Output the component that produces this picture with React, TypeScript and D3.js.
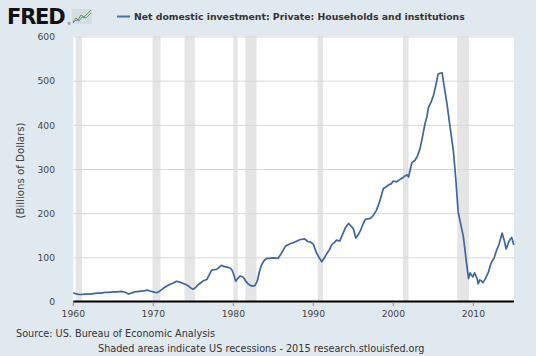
import React from "react";
import * as d3 from "d3";

const years: number[] = [
  1960.0, 1960.25, 1960.5, 1960.75, 1961.0, 1961.5, 1962.0, 1962.5, 1963.0, 1963.5,
  1964.0, 1964.5, 1965.0, 1965.5, 1966.0, 1966.5, 1966.9, 1967.25, 1967.7, 1968.25,
  1968.75, 1969.2, 1969.6, 1970.0, 1970.4, 1970.75, 1971.25, 1971.6, 1972.1, 1972.5,
  1972.9, 1973.3, 1973.75, 1974.1, 1974.4, 1974.75, 1975.0, 1975.3, 1975.6, 1975.9,
  1976.25, 1976.7, 1977.0, 1977.3, 1977.6, 1977.9, 1978.2, 1978.5, 1978.9, 1979.25,
  1979.6, 1979.85, 1980.0, 1980.3, 1980.55, 1980.85, 1981.25, 1981.6, 1981.9, 1982.3,
  1982.7, 1983.0, 1983.25, 1983.5, 1983.85, 1984.2, 1984.6, 1985.0, 1985.6, 1986.0,
  1986.5, 1987.1, 1987.7, 1988.3, 1988.6, 1988.9, 1989.3, 1989.6, 1990.0, 1990.4,
  1990.75, 1991.05, 1991.35, 1991.7, 1992.0, 1992.3, 1992.6, 1992.9, 1993.3, 1993.7,
  1994.0, 1994.4, 1994.7, 1995.0, 1995.3, 1995.6, 1995.9, 1996.2, 1996.5, 1997.1,
  1997.5, 1997.9, 1998.3, 1998.75, 1999.1, 1999.4, 1999.75, 2000.0, 2000.4, 2000.7,
  2001.0, 2001.35, 2001.7, 2001.9, 2002.3, 2002.7, 2003.0, 2003.3, 2003.6, 2003.95,
  2004.2, 2004.4, 2004.7, 2005.0, 2005.3, 2005.6, 2005.85, 2006.1, 2006.4, 2006.7,
  2007.1, 2007.5, 2007.8, 2008.1, 2008.4, 2008.75, 2009.1, 2009.4, 2009.6, 2009.8,
  2009.95, 2010.15, 2010.3, 2010.45, 2010.6, 2010.8, 2011.0, 2011.2, 2011.5, 2011.9,
  2012.1, 2012.3, 2012.6, 2012.9, 2013.2, 2013.6, 2013.85, 2014.1, 2014.4, 2014.6,
  2014.8, 2015.05,
];

const values: number[] = [
  21, 19, 18, 17, 17, 18, 18, 19, 20, 20,
  22, 22, 23, 23, 24, 22, 18, 20, 23, 24,
  25, 27, 25, 23, 21, 24, 31, 35, 40, 43,
  47, 45, 42, 39, 36, 31, 29, 33, 39, 43,
  48, 51, 62, 72, 73, 74, 78, 83, 80, 79,
  77, 72, 65, 47, 53, 59, 56, 46, 40, 36,
  37, 48, 68, 83, 94, 99, 99, 100, 99, 110,
  126, 132, 136, 141, 142, 143, 137, 136, 131, 111,
  100, 91, 99, 110, 118, 130, 134, 140, 138, 155,
  168, 178, 172, 166, 145, 152, 162, 176, 187, 189,
  196, 208, 228, 257, 261, 265, 268, 274, 272, 276,
  279, 284, 288, 283, 315, 321, 330, 345, 370, 403,
  420, 441, 452, 467, 490, 516, 518, 519, 483, 449,
  395, 343, 280, 204, 178, 148, 95, 53, 66, 60,
  57, 66, 60, 54, 41, 50, 48, 44, 53, 68,
  82, 91, 100, 117, 130, 156, 140, 120, 135, 142,
  146, 129,
];

const recessionStarts: number[] = [1960.3, 1969.9, 1973.9, 1980.0, 1981.5, 1990.55, 2001.2, 2007.98];
const recessionEnds: number[] = [1961.1, 1970.9, 1975.2, 1980.55, 1982.9, 1991.2, 2001.9, 2009.45];

const xTicks: number[] = [1960, 1970, 1980, 1990, 2000, 2010];
const yTicks: number[] = [0, 100, 200, 300, 400, 500, 600];

const seriesTitle = "Net domestic investment: Private: Households and institutions";
const yTitle = "(Billions of Dollars)";
const sourceText = "Source: US. Bureau of Economic Analysis";
const footerText = "Shaded areas indicate US recessions - 2015 research.stlouisfed.org";

const W = 536;
const H = 356;
const plotL = 73.3;
const plotR = 514;
const plotT = 37;
const plotB = 302;
const font = "DejaVu Sans, Verdana, sans-serif";

export default function App() {
  const x = d3.scaleLinear().domain([1960, 2015.08]).range([plotL, plotR]);
  const y = d3.scaleLinear().domain([0, 600]).range([plotB, plotT]);
  const data = years.map((yr, i) => [yr, values[i]] as [number, number]);
  const line = d3
    .line<[number, number]>()
    .x((d) => x(d[0]))
    .y((d) => y(d[1]))
    .curve(d3.curveLinear);

  return (
    <svg
      width={W}
      height={H}
      style={{ position: "absolute", left: 0, top: 0, display: "block" }}
      fontFamily={font}
    >
      <rect x={0} y={0} width={W} height={H} fill="#e1e9f0" />
      {/* logo */}
      <text x={7} y={24} fontSize={21} fontWeight={900} fill="#111" letterSpacing={-1.2}>
        FRED
      </text>
      <text x={67} y={25} fontSize={4} fill="#333">®</text>
      <g>
        <rect x={72} y={9} width={20} height={15} fill="#d4dbe2" />
        <polyline points="73,22 76,18 78,20 81,15 84,17 91,10" fill="none" stroke="#5a9a3c" strokeWidth={1} />
        <polyline points="73,23 76,20 79,21 82,17 86,18 91,13" fill="none" stroke="#4a78b0" strokeWidth={0.8} />
      </g>
      {/* legend */}
      <line x1={117} x2={130} y1={16.5} y2={16.5} stroke="#4572a7" strokeWidth={2} />
      <text x={134} y={20} fontSize={9.3} fontWeight="bold" fill="#333">
        {seriesTitle}
      </text>
      {/* plot area */}
      <rect x={plotL} y={plotT - 1} width={plotR - plotL} height={plotB - plotT + 1} fill="#ffffff" />
      {recessionStarts.map((s, i) => (
        <rect
          key={"r" + i}
          x={x(s)}
          y={plotT - 1}
          width={x(recessionEnds[i]) - x(s)}
          height={plotB - plotT + 1}
          fill="#e5e5e5"
        />
      ))}
      {yTicks.map((t) => (
        <line key={"g" + t} x1={plotL} x2={plotR} y1={y(t)} y2={y(t)} stroke="#d8d8d8" strokeWidth={1} />
      ))}
      <path d={line(data) || ""} fill="none" stroke="#3d67a0" strokeWidth={1.7} strokeLinejoin="round" />
      <line x1={plotL} x2={plotR} y1={plotB - 0.5} y2={plotB - 0.5} stroke="#000" strokeWidth={2} />
      {xTicks.map((t) => (
        <g key={"x" + t}>
          <line x1={x(t)} x2={x(t)} y1={plotB} y2={plotB + 4} stroke="#888" strokeWidth={1} />
          <text x={x(t)} y={317} fontSize={9.2} textAnchor="middle" fill="#444">
            {t}
          </text>
        </g>
      ))}
      {yTicks.map((t) => (
        <text key={"y" + t} x={55} y={y(t) + 3.3} fontSize={9.2} textAnchor="end" fill="#444">
          {t}
        </text>
      ))}
      <text
        transform={`translate(23.5,${(plotT + plotB) / 2 + 1}) rotate(-90)`}
        fontSize={10.2}
        textAnchor="middle"
        fill="#444"
      >
        {yTitle}
      </text>
      <text x={16} y={337} fontSize={9.7} fill="#333">
        {sourceText}
      </text>
      <text x={98} y={352} fontSize={9.7} fill="#333">
        {footerText}
      </text>
    </svg>
  );
}
